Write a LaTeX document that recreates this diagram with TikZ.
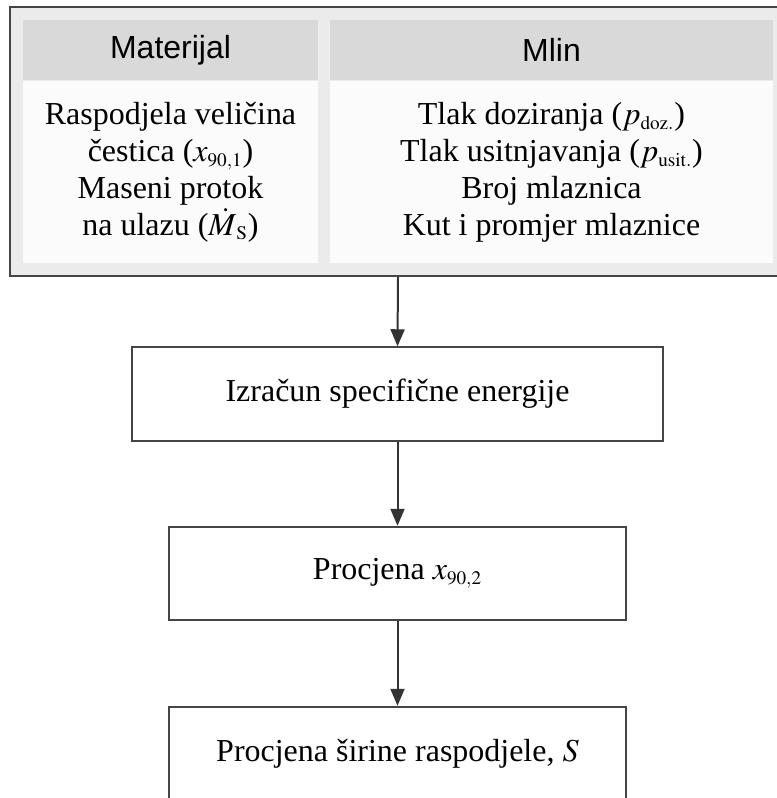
\documentclass[tikz,border=0pt]{standalone}
\usepackage{mathptmx}
\usepackage[no-math]{fontspec}
\setmainfont{Liberation Serif}
\setsansfont{Liberation Sans}
\usetikzlibrary{arrows.meta}
\definecolor{edgegray}{HTML}{454545}
\definecolor{panelgray}{HTML}{EBEBEB}
\definecolor{headgray}{HTML}{D9D9D9}
\definecolor{bodygray}{HTML}{FBFBFB}
\newcommand{\lowidx}[1]{_{\scriptscriptstyle\mathrm{#1}}}
\tikzset{
  panel/.style={draw=edgegray, line width=0.04cm, fill=panelgray,
    minimum width=15.52cm, minimum height=5.38cm},
  head/.style={fill=headgray, minimum height=1.2cm,
    font=\sffamily\fontsize{18.2}{21}\selectfont},
  cell/.style={fill=bodygray, minimum height=3.64cm, align=center,
    font=\fontsize{18.2}{21}\selectfont},
  stepbox/.style={draw=edgegray, line width=0.04cm, fill=white,
    minimum height=1.87cm, font=\fontsize{18.2}{21}\selectfont},
  arr/.style={draw=black!80, line width=0.04cm,
    -{Triangle[length=0.34cm,width=0.28cm]}}
}
\begin{document}
\begin{tikzpicture}[x=0.02cm,y=-0.02cm]
\useasboundingbox (0,0) rectangle (777,798);
\fill[white] (0,0) rectangle (777,798);
% input panel
\node[panel] (panel) at (398,141.5) {};
\node[head, minimum width=5.9cm] (matHead) at (170.5,50) {Materijal};
\node[head, minimum width=8.86cm] (mlinHead) at (551.5,50) {Mlin};
\node[cell, minimum width=5.9cm] (matBody) at (170.5,172)
  {Raspodjela veličina\\čestica ($x\lowidx{90,1}$)\\Maseni protok\\na ulazu ($\smash{\dot{M}}\lowidx{S}$)};
\node[cell, minimum width=8.86cm] (mlinBody) at (551.5,172)
  {Tlak doziranja ($p\lowidx{doz.}$)\\Tlak usitnjavanja ($p\lowidx{usit.}$)\\Broj mlaznica\\Kut i promjer mlaznice};
% steps
\node[stepbox, minimum width=10.62cm] (energy) at (397.5,394) {Izračun specifične energije};
\node[stepbox, minimum width=9.16cm] (estimate) at (397.5,573.5) {Procjena $x\lowidx{90,2}$};
\node[stepbox, minimum width=9.14cm] (spread) at (397.5,753.5) {Procjena širine raspodjele, $S$};
\draw[arr] (panel.south) -- (energy.north);
\draw[arr] (energy.south) -- (estimate.north);
\draw[arr] (estimate.south) -- (spread.north);
\end{tikzpicture}
\end{document}
